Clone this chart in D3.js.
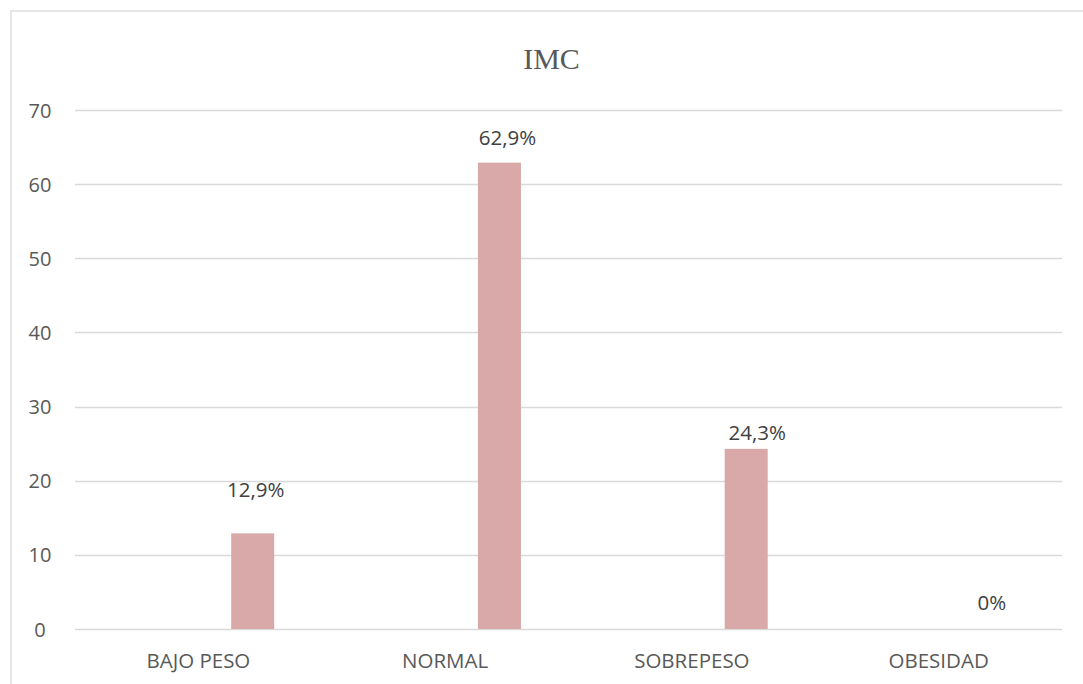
<!DOCTYPE html>
<html>
<head>
<meta charset="utf-8">
<script src="https://cdn.jsdelivr.net/npm/d3@7"></script>
<style>
  html, body { margin: 0; padding: 0; background: #fff; }
  svg { display: block; }
</style>
</head>
<body>
<svg id="chart" width="1083" height="684"></svg>
<script>
// ---- data ----
const categories = ["BAJO PESO", "NORMAL", "SOBREPESO", "OBESIDAD"];
const seriesNames = ["Serie vacía", "IMC"];
const emptySeries = [null, null, null, null];
const values = [12.9, 62.9, 24.3, 0];
const valueLabels = ["12,9%", "62,9%", "24,3%", "0%"];
const yTicks = [0, 10, 20, 30, 40, 50, 60, 70];
const title = "IMC";

// ---- layout / style (not data) ----
const W = 1083, H = 684;
const plot = { left: 75, right: 1062, top: 110, bottom: 629 };
const labelNudgeX = [3, 8, 11, -1];
const labelNudgeY = [-44, -25, -16, -26];
const txtColor = "#595959";
const barColor = "#d9a9a9";
const gridColor = "#d9d9d9";
const sansFont = "'Open Sans', 'Liberation Sans', sans-serif";

const svg = d3.select("#chart");

// outer frame
svg.append("rect")
  .attr("x", 11).attr("y", 11)
  .attr("width", W + 10).attr("height", H + 10)
  .attr("fill", "none").attr("stroke", gridColor).attr("stroke-width", 1.3);

const x0 = d3.scaleBand().domain(categories).range([plot.left, plot.right]).padding(0);
const x1 = d3.scaleBand().domain(seriesNames).range([0, x0.bandwidth()])
  .paddingInner(0.604).paddingOuter(0.4377);
const y = d3.scaleLinear().domain([0, 70]).range([plot.bottom, plot.top]);

// gridlines
svg.append("g").selectAll("line").data(yTicks).join("line")
  .attr("x1", plot.left).attr("x2", plot.right)
  .attr("y1", d => Math.round(y(d)) + 0.5).attr("y2", d => Math.round(y(d)) + 0.5)
  .attr("stroke", gridColor).attr("stroke-width", 1.3);

// y axis labels
const yAxis = d3.axisLeft(y).tickValues(yTicks).tickSize(0).tickPadding(0);
const gy = svg.append("g").attr("transform", `translate(40,0)`).call(yAxis);
gy.select(".domain").remove();
gy.selectAll("text")
  .attr("fill", txtColor).attr("font-family", sansFont).attr("font-size", 20)
  .attr("text-anchor", "middle").attr("dy", "0.35em");

// x axis labels
const xAxis = d3.axisBottom(x0).tickSize(0).tickPadding(0);
const gx = svg.append("g").attr("transform", `translate(0,${plot.bottom})`).call(xAxis);
gx.select(".domain").remove();
gx.selectAll("text")
  .attr("fill", txtColor).attr("font-family", sansFont).attr("font-size", 20.5)
  .attr("y", 39).attr("dy", 0);

// bars (empty series has no marks)
const rows = categories.map((c, i) => ({ cat: c, vals: [emptySeries[i], values[i]] }));
svg.append("g").selectAll("g").data(rows).join("g")
  .attr("transform", d => `translate(${x0(d.cat)},0)`)
  .selectAll("rect")
  .data(d => d.vals.map((v, j) => ({ s: seriesNames[j], v })).filter(e => e.v != null && e.v > 0))
  .join("rect")
  .attr("x", d => x1(d.s)).attr("width", x1.bandwidth())
  .attr("y", d => y(d.v)).attr("height", d => y(0) - y(d.v))
  .attr("fill", barColor);

// data labels
svg.append("g").selectAll("text").data(values).join("text")
  .attr("x", (d, i) => x0(categories[i]) + x1("IMC") + x1.bandwidth() / 2 + labelNudgeX[i])
  .attr("y", (d, i) => y(d) + labelNudgeY[i])
  .attr("dy", "0.35em")
  .attr("text-anchor", "middle")
  .attr("fill", "#404040").attr("font-family", sansFont).attr("font-size", 20.5)
  .text((d, i) => valueLabels[i]);

// title
svg.append("text")
  .attr("x", (plot.left + plot.right) / 2 - 17).attr("y", 69)
  .attr("text-anchor", "middle")
  .attr("fill", txtColor).attr("font-family", "'Liberation Serif', 'Times New Roman', serif")
  .attr("font-size", 30)
  .text(title);
</script>
</body>
</html>
